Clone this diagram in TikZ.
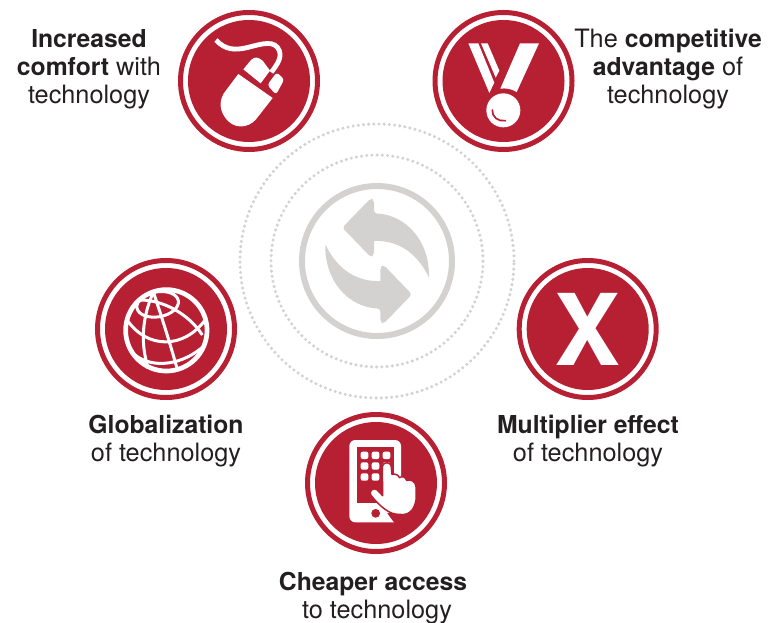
\documentclass[tikz,border=0pt]{standalone}
\usepackage{fontspec}
\setmainfont{TeX Gyre Heros}
\definecolor{crimson}{HTML}{B71F33}
\definecolor{ash}{HTML}{D3D2D0}
\definecolor{ink}{HTML}{231F20}
\newcommand{\heavy}[1]{{\fontsize{24.7}{28}\selectfont\bfseries #1}}
\tikzset{
  badge/.style={circle,draw=crimson,line width=5pt,minimum size=137pt,inner sep=0pt,fill=white},
  core/.style={circle,fill=crimson,minimum size=122pt,inner sep=0pt},
  caption/.style={align=center,text=ink,font=\fontsize{25.3}{28}\selectfont,inner sep=0pt},
  dotring/.style={draw=ash,line width=3.4pt,line cap=round,dash pattern=on 0pt off 5.2pt},
  icon/.style={x=0.33333pt,y=-0.33333pt},
  hole/.style={fill=crimson}
}
\begin{document}
\begin{tikzpicture}[x=1pt,y=-1pt]
\useasboundingbox (0,0) rectangle (768,623);
% central rings
\coordinate (hub) at (377,261);
\draw[dotring] (hub) circle (137pt);
\draw[dotring] (hub) circle (106pt);
\draw[draw=ash,line width=6pt] (hub) circle (75pt);
\begin{scope}[shift={(230,115)},icon]
  \foreach \r in {0,180}{
  \fill[ash,rotate around={\r:(441.5,438)},rounded corners=3pt]
    (337,338) -- (422,250) -- (432,255) -- (432,295) [sharp corners]
    .. controls (530,300) and (600,380) .. (597,488)
    .. controls (560,410) and (500,375) .. (432,378)
    [rounded corners=3pt] -- (432,420) -- (422,426) -- cycle;}
\end{scope}
% badges
\node[badge] (mouse) at (249,81) {};
\node[core] (mousecore) at (249,81) {};
\node[badge] (medal) at (503.5,81) {};
\node[core] (medalcore) at (503.5,81) {};
\node[badge] (globe) at (166,329) {};
\node[core] (globecore) at (166,329) {};
\node[badge] (phone) at (376,483) {};
\node[core] (phonecore) at (376,483) {};
\node[badge] (times) at (587.7,329) {};
\node[core,text=white,font=\fontsize{99}{99}\selectfont\bfseries] (timescore) at (587.7,329) {X};
% mouse
\begin{scope}[shift={(170,0)},icon]
  \draw[white,line width=4.8pt] (138,120) .. controls (165,150) and (195,152) .. (235,142)
    .. controls (280,130) and (315,120) .. (328,152) .. controls (336,175) and (320,195) .. (304,217);
  \fill[white] (205,222) -- (308,294) -- (258,358) .. controls (235,385) and (190,390) .. (165,352)
    .. controls (145,325) and (150,295) .. (165,275) -- cycle;
  \fill[white] (220,208) -- (243,180) .. controls (255,168) and (265,172) .. (278,182)
    -- (300,212) -- (272,250) -- cycle;
  \fill[white,rounded corners=3pt] (292,255) -- (320,217) -- (343,238) -- (318,284) -- cycle;
\end{scope}
% medal
\begin{scope}[shift={(425,0)},icon]
  \fill[white] (130,130) -- (160,130) -- (208,248) -- (193,279) -- cycle;
  \fill[white] (168,130) -- (188,130) -- (223,212) -- (212,233) -- cycle;
  \fill[white] (285,130) -- (342,130) -- (275,276) .. controls (260,266) and (240,264) .. (226,266) -- cycle;
  \fill[white] (235,331) circle (17pt);
  \draw[crimson,line width=1.7pt,line cap=round] (202,330) .. controls (200,350) and (220,366) .. (241,362);
\end{scope}
% globe
\begin{scope}[shift={(115,280)},icon]
  \begin{scope}[white,line width=3pt]
    \draw[rotate around={10:(128,73)}] (128,73) ellipse (21pt and 12.5pt);
    \draw (38,122) .. controls (95,205) and (205,210) .. (272,118);
    \draw (60,225) .. controls (115,268) and (205,255) .. (270,195);
    \draw (72,60) .. controls (140,58) and (220,100) .. (262,165);
    \draw (115,36) .. controls (82,110) and (75,190) .. (100,265);
    \draw (115,36) .. controls (140,110) and (165,190) .. (187,268);
  \end{scope}
  \draw[white,line width=4.7pt] (154,151) circle (40.7pt);
\end{scope}
% phone
\begin{scope}[shift={(300,405)},icon]
  \fill[white,rounded corners=6pt] (148,105) rectangle (303,352);
  \fill[crimson] (170,125) rectangle (283,295);
  \fill[crimson] (227,325) circle (4.4pt);
  \foreach \a/\b in {182/140,215/140,248/140,182/172,215/172,182/205,215/205,248/172}
    \fill[white,rounded corners=2pt] (\a,\b) rectangle ++(23,22);
  \fill[crimson] (310,310) -- (310,356) -- (285,356) -- (262,325) -- cycle;
  \fill[white,draw=crimson,line width=1.5pt,line join=round]
    (248,272) -- (247,188) .. controls (247,168) and (274,168) .. (274,188) -- (276,208)
    .. controls (288,205) and (297,212) .. (298,218) .. controls (308,212) and (316,216) .. (320,226)
    .. controls (334,222) and (347,230) .. (348,245) -- (348,285)
    .. controls (342,322) and (320,332) .. (298,328) .. controls (270,330) and (240,305) .. (212,270)
    .. controls (205,258) and (222,245) .. (232,255) -- cycle;
\end{scope}
% captions
\node[caption] (c1) at (89,69) {\heavy{Increased}\\\heavy{comfort} with\\technology};
\node[caption] (c2) at (668,69) {The \heavy{competitive}\\\heavy{advantage} of\\technology};
\node[caption] (c3) at (166,441) {\heavy{Globalization}\\of technology};
\node[caption] (c4) at (588,441) {\heavy{Multiplier effect}\\of technology};
\node[caption] (c5) at (375,598) {\heavy{Cheaper access}\hspace*{4pt}\\\hspace*{4pt}to technology};
\end{tikzpicture}
\end{document}
